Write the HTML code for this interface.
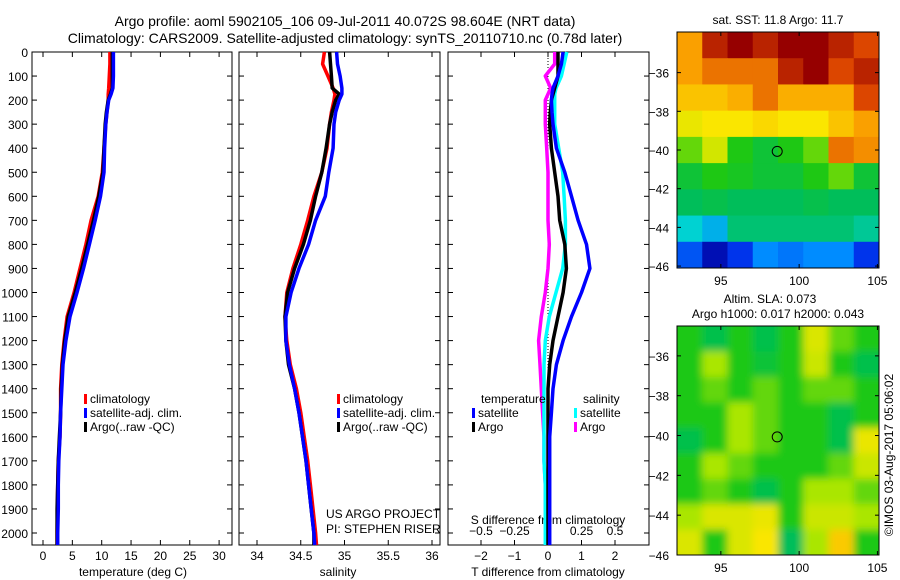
<!DOCTYPE html>
<html><head><meta charset="utf-8"><style>
body{margin:0;background:#fff;}
svg{display:block;font-family:"Liberation Sans",sans-serif;}
text{fill:#000;}
</style></head><body>
<svg id="c" width="900" height="580" viewBox="0 0 900 580" xmlns="http://www.w3.org/2000/svg">
<text x="345" y="26" font-size="14" text-anchor="middle">Argo profile: aoml 5902105_106 09-Jul-2011 40.072S 98.604E (NRT data)</text>
<text x="345" y="43" font-size="14" text-anchor="middle">Climatology: CARS2009. Satellite-adjusted climatology: synTS_20110710.nc (0.78d later)</text>
<defs><filter id="bl" x="-10%" y="-10%" width="120%" height="120%"><feGaussianBlur stdDeviation="4"/></filter>
<clipPath id="m1c"><rect x="677" y="32" width="202" height="236"/></clipPath>
<clipPath id="m2c"><rect x="677" y="326" width="202" height="229"/></clipPath></defs>
<g id="g"></g>
</svg>
<script>
const depths=[0,50,100,150,175,200,250,300,400,500,600,700,800,900,1000,1100,1200,1300,1400,1500,1600,1700,1800,1900,2000,2050];
const tempClim=[11.4,11.4,11.3,11.2,11.1,11.1,10.9,10.7,10.4,10.1,9.4,8.2,7.3,6.3,5.3,4.1,3.6,3.2,3.0,3.0,2.9,2.6,2.5,2.45,2.4,2.4];
const tempSat=[12,12,12,11.9,11.6,11.2,10.9,10.7,10.5,10.4,9.8,8.9,7.9,6.9,5.8,4.6,3.9,3.4,3.2,3.0,2.9,2.7,2.6,2.6,2.5,2.5];
const tempArgo=[11.8,11.8,11.8,11.8,11.5,11.1,10.8,10.6,10.4,10.2,9.5,8.6,7.6,6.6,5.5,4.3,3.7,3.3,3.1,3.0,2.8,2.6,2.5,2.4,2.4,2.4];
const salClim=[34.77,34.75,34.81,34.87,34.89,34.88,34.85,34.83,34.80,34.74,34.65,34.58,34.50,34.41,34.34,34.32,34.34,34.38,34.45,34.50,34.54,34.58,34.61,34.64,34.67,34.68];
const salSat=[34.91,34.92,34.95,34.97,34.97,34.94,34.90,34.88,34.87,34.82,34.78,34.67,34.59,34.48,34.39,34.33,34.33,34.37,34.43,34.48,34.52,34.56,34.59,34.62,34.65,34.66];
const salArgo=[34.83,34.84,34.85,34.86,34.94,34.90,34.86,34.83,34.79,34.74,34.67,34.61,34.53,34.43,34.35,34.32,34.33,34.36,34.43,34.48,34.52,34.56,34.59,34.62,34.65,34.65];
const dTSat=[0.45,0.4,0.3,0.15,0.12,0.1,0.12,0.15,0.25,0.5,0.7,0.9,1.15,1.25,1.0,0.7,0.45,0.25,0.15,0.1,0.05,0.05,0.05,0.05,0.05,0.05];
const dTArgo=[0.3,0.3,0.3,0.2,0.15,0.1,0.07,0.05,0.1,0.2,0.3,0.35,0.5,0.55,0.45,0.3,0.15,0.05,0,0,0,0,0,0,0,0];
const dSSat=[0.14,0.12,0.1,0.06,0.05,0.05,0.05,0.05,0.08,0.11,0.12,0.13,0.13,0.11,0.06,0.01,-0.02,-0.03,-0.03,-0.03,-0.03,-0.03,-0.02,-0.02,-0.02,-0.02];
const dSArgo=[0.05,0.05,-0.02,0.02,0.0,-0.02,-0.02,-0.02,-0.01,0,0,0,0.01,0,-0.02,-0.05,-0.07,-0.06,-0.05,-0.04,-0.03,-0.03,-0.02,-0.02,-0.01,-0.01];
const depthTicks=[0,100,200,300,400,500,600,700,800,900,1000,1100,1200,1300,1400,1500,1600,1700,1800,1900,2000];
const tempTicks=[0,5,10,15,20,25,30];
const salTicks=[34,34.5,35,35.5,36];
const dTTicks=[-2,-1,0,1,2];
const dSTicks=[-0.5,-0.25,0,0.25,0.5];
const latTicks=[-36,-38,-40,-42,-44,-46];
const lonTicks=[95,100,105];
const sstGrid=[
[.8,.95,1,.95,1,1,.95,.9],
[.8,.85,.85,.85,.95,1,.9,.95],
[.75,.75,.78,.85,.78,.78,.78,.9],
[.68,.7,.7,.72,.7,.7,.75,.8],
[.55,.65,.5,.45,.5,.55,.85,.82],
[.45,.5,.48,.45,.45,.5,.55,.45],
[.4,.42,.4,.4,.4,.42,.4,.4],
[.3,.25,.38,.38,.38,.38,.38,.35],
[.15,.05,.12,.2,.18,.2,.2,.12]];
const slaGrid=[
[.5,.42,.5,.42,.5,.66,.55,.5],
[.5,.6,.5,.45,.5,.64,.5,.42],
[.5,.55,.5,.55,.5,.55,.55,.5],
[.5,.5,.6,.55,.5,.5,.42,.5],
[.42,.5,.6,.55,.5,.5,.42,.68],
[.5,.6,.55,.5,.5,.5,.55,.64],
[.5,.55,.5,.42,.5,.6,.6,.55],
[.6,.66,.66,.68,.5,.64,.64,.6],
[.66,.5,.66,.7,.4,.6,.74,.5]];
const argoLon=98.6, argoLat=-40.07;

const NS="http://www.w3.org/2000/svg";
const G=document.getElementById('g');
function el(t,a,p){const e=document.createElementNS(NS,t);for(const k in a)e.setAttribute(k,a[k]);(p||G).appendChild(e);return e;}
function txt(x,y,s,anchor,size){const e=el('text',{x:x,y:y,'font-size':size||12,'text-anchor':anchor||'start'});e.textContent=s;return e;}
const yD=d=>52+d*0.2405;
const xT=t=>43+t*5.87;
const xS=s=>257+(s-34)*87.5;
const xDT=t=>548+t*33.5;
const xDS=s=>548+s*134;

function panel(x0,x1,nm){const r=el('rect',{x:x0,y:52,width:x1-x0,height:493,fill:'none',stroke:'#000','stroke-width':1});


depthTicks.forEach(d=>{el('line',{x1:x0,x2:x0+5,y1:yD(d),y2:yD(d),stroke:'#000'});el('line',{x1:x1-5,x2:x1,y1:yD(d),y2:yD(d),stroke:'#000'});});}
panel(32,232,'temperature-panel');panel(239,440,'salinity-panel');panel(448,649,'difference-panel');
depthTicks.forEach(d=>{const t=txt(28,yD(d)+5,String(d),'end');

});
function xticks(vals,fx,ylab,fmt){vals.forEach(v=>{const x=fx(v);el('line',{x1:x,x2:x,y1:52,y2:57,stroke:'#000'});el('line',{x1:x,x2:x,y1:540,y2:545,stroke:'#000'});
if(ylab){const t=txt(x,ylab,fmt?fmt(v):String(v),'middle');

}});}
xticks(tempTicks,xT,560);xticks(salTicks,xS,560);xticks(dTTicks,xDT,560,v=>String(v).replace('-','\u2212'));
dSTicks.forEach(v=>{const t=txt(xDS(v),535,String(v).replace('-','\u2212'),'middle');

});
txt(133,576,'temperature (deg C)','middle');
txt(338,576,'salinity','middle');
txt(548,576,'T difference from climatology','middle');
txt(548,524,'S difference from climatology','middle');
el('line',{x1:548,x2:548,y1:52,y2:545,stroke:'#000','stroke-dasharray':'1,2'});

function series(vals,fx,col,nm){let d='';vals.forEach((v,i)=>{d+=(i?'L':'M')+fx(v).toFixed(1)+','+yD(depths[i]).toFixed(1);});
const p=el('path',{d:d,fill:'none',stroke:col,'stroke-width':3.5,'stroke-linejoin':'round'});

}
series(tempClim,xT,'#f00','temp-climatology-line');series(tempArgo,xT,'#000','temp-argo-line');series(tempSat,xT,'#00f','temp-satellite-line');
series(salClim,xS,'#f00','sal-climatology-line');series(salArgo,xS,'#000','sal-argo-line');series(salSat,xS,'#00f','sal-satellite-line');
series(dSArgo,xDS,'#f0f','dS-argo-line');series(dSSat,xDS,'#0ff','dS-satellite-line');series(dTArgo,xDT,'#000','dT-argo-line');series(dTSat,xDT,'#00f','dT-satellite-line');

function legend(x,y,items,nm){items.forEach((it,i)=>{el('rect',{x:x,y:y+i*14-9,width:3,height:10,fill:it[0]});
const t=txt(x+6,y+i*14,it[1]);

});}
legend(84,403,[['#f00','climatology'],['#00f','satellite-adj. clim.'],['#000','Argo(..raw -QC)']],'temp-legend-entry');
legend(337,403,[['#f00','climatology'],['#00f','satellite-adj. clim.'],['#000','Argo(..raw -QC)']],'sal-legend-entry');
txt(481,403,'temperature');
txt(583,403,'salinity');
legend(472,417,[['#00f','satellite'],['#000','Argo']],'dT-legend-entry');
legend(574,417,[['#0ff','satellite'],['#f0f','Argo']],'dS-legend-entry');
txt(326,518,'US ARGO PROJECT');
txt(326,533,'PI: STEPHEN RISER');

const cmapStops=[[0,0,0,130],[.1,0,30,230],[.2,0,140,255],[.3,0,210,210],[.4,0,190,90],[.5,30,200,20],[.6,170,230,0],[.7,250,230,0],[.8,250,160,0],[.9,220,70,0],[1,150,0,0]];
function cmap(v){v=Math.max(0,Math.min(1,v));for(let i=1;i<cmapStops.length;i++){const a=cmapStops[i-1],b=cmapStops[i];if(v<=b[0]){const f=(v-a[0])/(b[0]-a[0]);
return 'rgb('+[1,2,3].map(k=>Math.round(a[k]+(b[k]-a[k])*f)).join(',')+')';}}return 'rgb(150,0,0)';}
function map(grid,x0,y0,w,h,latTop,latBot,clip,blur,nm){
const gg=el('g',{'clip-path':'url(#'+clip+')'});
const inner=el('g',blur?{filter:'url(#bl)'}:{},gg);
const nr=grid.length,nc=grid[0].length,cw=w/nc,ch=h/nr;
grid.forEach((row,i)=>row.forEach((v,j)=>{
const ex=blur?12:0;
const r=el('rect',{x:x0+j*cw-(j==0?ex:0),y:y0+i*ch-(i==0?ex:0),width:cw+0.5+(j==0||j==nc-1?ex:0),height:ch+0.5+(i==0||i==nr-1?ex:0),fill:cmap(v)},inner);

}));
const fr=el('rect',{x:x0,y:y0,width:w,height:h,fill:'none',stroke:'#000'});


const ly=l=>y0+(latTop-l)/(latTop-latBot)*h, lx=o=>x0+(o-92.2)/(105.1-92.2)*w;
latTicks.forEach(l=>{el('line',{x1:x0,x2:x0+4,y1:ly(l),y2:ly(l),stroke:'#000'});el('line',{x1:x0+w-4,x2:x0+w,y1:ly(l),y2:ly(l),stroke:'#000'});
txt(x0-8,ly(l)+5,String(l).replace('-','\u2212'),'end');});
lonTicks.forEach(o=>{el('line',{x1:lx(o),x2:lx(o),y1:y0,y2:y0+4,stroke:'#000'});el('line',{x1:lx(o),x2:lx(o),y1:y0+h-4,y2:y0+h,stroke:'#000'});
txt(lx(o),y0+h+17,String(o),'middle');});
const c=el('ellipse',{cx:lx(argoLon),cy:ly(argoLat),rx:5,ry:5,fill:'none',stroke:'#000'});

}
map(sstGrid,677,32,202,236,-33.9,-46.1,'m1c',false,'sst-map');
map(slaGrid,677,326,202,229,-34.5,-46,'m2c',true,'sla-map');
txt(778,24,'sat. SST: 11.8 Argo: 11.7','middle');
txt(770,303,'Altim. SLA: 0.073','middle');
txt(778,318,'Argo h1000: 0.017 h2000: 0.043','middle');
const ts=txt(0,0,'\u00a9IMOS 03-Aug-2017 05:06:02','middle');
ts.setAttribute('transform','translate(893,455) rotate(-90)');


</script>
</body></html>
